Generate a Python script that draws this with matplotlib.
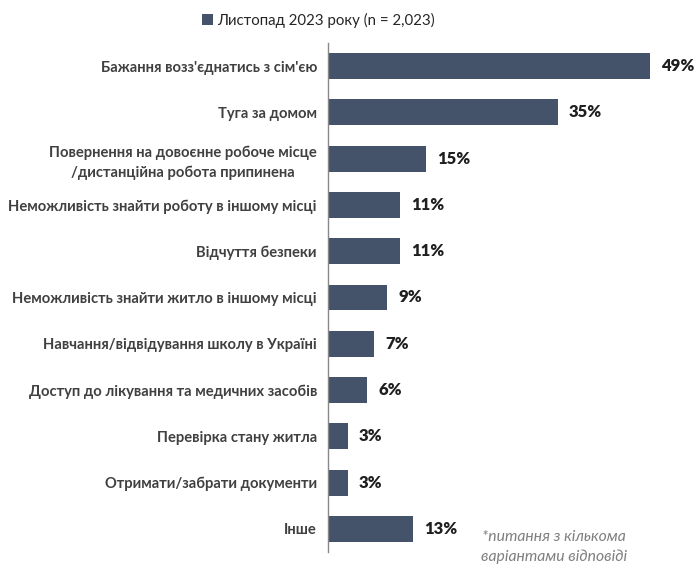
import matplotlib
matplotlib.use("Agg")
import matplotlib.pyplot as plt

categories = [
    "Бажання возз'єднатись з сім'єю",
    "Туга за домом",
    "Повернення на довоєнне робоче місце\n/дистанційна робота припинена",
    "Неможливість знайти роботу в іншому місці",
    "Відчуття безпеки",
    "Неможливість знайти житло в іншому місці",
    "Навчання/відвідування школу в Україні",
    "Доступ до лікування та медичних засобів",
    "Перевірка стану житла",
    "Отримати/забрати документи",
    "Інше",
]
values = [49, 35, 15, 11, 11, 9, 7, 6, 3, 3, 13]
series_name = "Листопад 2023 року (n = 2,023)"
footnote = "*питання з кількома\nваріантами відповіді"

bar_color = "#44536A"
plt.rcParams['font.family'] = ['Lato', 'DejaVu Sans']

fig = plt.figure(figsize=(6.94, 5.67), dpi=100)
ax = fig.add_axes([328/694, 1-552/567, 361/694, (552-43)/567])

ypos = list(range(len(categories)))
ax.barh(ypos, values, height=0.56, color=bar_color, label=series_name)
ax.set_ylim(len(categories)-0.5, -0.5)
ax.set_xlim(0, 55)
ax.set_yticks(ypos)
ax.set_yticklabels(categories, fontsize=10.6, fontweight='bold', color='#404040',
                   ha='right', multialignment='center', linespacing=1.45)
ax.tick_params(axis='y', length=0, pad=8)
ax.set_xticks([])
for s in ['top', 'right', 'bottom']:
    ax.spines[s].set_visible(False)
ax.spines['left'].set_color('#888888')
ax.spines['left'].set_linewidth(1.0)

for y, v in zip(ypos, values):
    ax.text(v + 1.7, y, f"{v}%", va='center', ha='left', fontsize=12,
            fontweight='heavy', color='#1f1f1f')

fig.legend(loc='center', bbox_to_anchor=(318/694, 1-20/567), frameon=False,
           fontsize=10.8, handlelength=0.75, handleheight=0.75, handletextpad=0.25,
           labelcolor='#262626')

fig.text(554/694, 1-547/567, footnote, ha='center', va='center', fontsize=11.3,
         style='italic', color='#7f7f7f', linespacing=1.45)

fig.savefig("out.png", dpi=100)
